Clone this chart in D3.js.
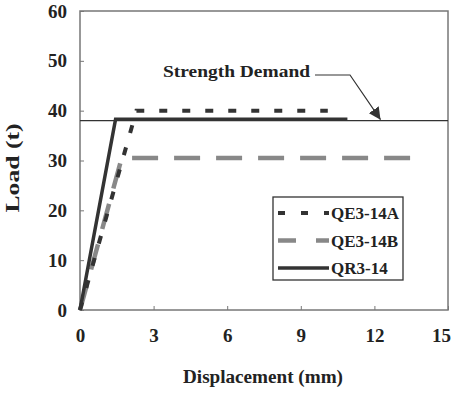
<!DOCTYPE html>
<html lang="en">
<head>
    <meta charset="UTF-8">
    <script src="https://d3js.org/d3.v7.min.js"></script>
    <title>Load vs Displacement</title>
    <style>
        body { margin: 0; background: #fff; }
        text { font-family: "Liberation Serif", "Times New Roman", serif; font-weight: bold; fill: #222; }
    </style>
</head>
<body>
<svg width="458" height="394" id="chart"></svg>
<script>
    // data
    var xTicks = [0, 3, 6, 9, 12, 15];
    var yTicks = [0, 10, 20, 30, 40, 50, 60];
    var seriesNames = ["QE3-14A", "QE3-14B", "QR3-14"];
    var qe14A = [[0, 0], [2.3, 40], [10.1, 40]];
    var qe14B = [[0, 0], [1.7, 30.5], [13.9, 30.5]];
    var qr14 = [[0, 0], [1.45, 38.3], [10.9, 38.3]];
    var demand = 38;

    var svg = d3.select('#chart');
    var plotL = 80, plotR = 448, plotT = 11, plotB = 310;

    var x = d3.scaleLinear().domain([0, 15]).range([plotL, plotR]);
    var y = d3.scaleLinear().domain([0, 60]).range([plotB, plotT]);

    // frame
    svg.append('rect')
        .attr('x', plotL).attr('y', plotT)
        .attr('width', plotR - plotL).attr('height', plotB - plotT)
        .attr('fill', 'none').attr('stroke', '#777').attr('stroke-width', 1.5);

    var yAxis = d3.axisLeft(y).tickValues(yTicks).tickSize(-4).tickPadding(13);
    var gy = svg.append('g').attr('transform', 'translate(' + plotL + ',0)').call(yAxis);
    var xAxis = d3.axisBottom(x).tickValues(xTicks).tickSize(-4).tickPadding(19);
    var gx = svg.append('g').attr('transform', 'translate(0,' + plotB + ')').call(xAxis);
    [gy, gx].forEach(function(g){
        g.select('.domain').remove();
        g.selectAll('line').attr('stroke', '#777');
        g.selectAll('text').style('font-size', '19px').attr('fill', '#222');
    });
    // last x label sits a bit left of its tick in the original
    gx.selectAll('.tick text').filter(function(d){ return d == 15; }).attr('dx', -7);

    // strength demand line
    svg.append('line')
        .attr('x1', x(0)).attr('x2', x(15))
        .attr('y1', y(demand)).attr('y2', y(demand))
        .attr('stroke', '#333').attr('stroke-width', 1.3);

    var line = d3.line()
        .x(function(d){ return x(d[0]); })
        .y(function(d){ return y(d[1]); });

    var styles = [
        {data: qe14B, color: '#888', width: 4.5, dash: '26,16'},
        {data: qe14A, color: '#333', width: 4, dash: '8,15'},
        {data: qr14, color: '#333', width: 3.5, dash: null}
    ];
    styles.forEach(function(s){
        svg.append('path')
            .datum(s.data)
            .attr('d', line)
            .attr('fill', 'none')
            .attr('stroke', s.color)
            .attr('stroke-width', s.width)
            .attr('stroke-dasharray', s.dash);
    });

    // annotation
    svg.append('text')
        .attr('x', 163).attr('y', 77)
        .attr('textLength', 147).attr('lengthAdjust', 'spacingAndGlyphs')
        .style('font-size', '17px')
        .text('Strength Demand');
    svg.append('defs').append('marker')
        .attr('id', 'arrow')
        .attr('viewBox', '0 0 10 10')
        .attr('refX', 10).attr('refY', 5)
        .attr('markerWidth', 12).attr('markerHeight', 12)
        .attr('markerUnits', 'userSpaceOnUse')
        .attr('orient', 'auto')
        .append('path').attr('d', 'M0,0 L10,5 L0,10 Z').attr('fill', '#333');
    svg.append('path')
        .attr('d', 'M315,75 L350,75 L' + x(12.25) + ',' + (y(demand) - 1))
        .attr('fill', 'none').attr('stroke', '#333').attr('stroke-width', 1.2)
        .attr('marker-end', 'url(#arrow)');

    // legend
    var legend = svg.append('g');
    legend.append('rect')
        .attr('x', 273).attr('y', 197).attr('width', 130).attr('height', 83)
        .attr('fill', '#fff').attr('stroke', '#333').attr('stroke-width', 1.3);
    var legendStyles = [
        {color: '#333', width: 4, dash: '7,16'},
        {color: '#888', width: 4.5, dash: '18,20'},
        {color: '#333', width: 3.5, dash: null}
    ];
    seriesNames.forEach(function(name, i){
        var ly = 213 + i * 27.5;
        legend.append('line')
            .attr('x1', 278).attr('x2', 329)
            .attr('y1', ly).attr('y2', ly)
            .attr('stroke', legendStyles[i].color)
            .attr('stroke-width', legendStyles[i].width)
            .attr('stroke-dasharray', legendStyles[i].dash);
        legend.append('text')
            .attr('x', 331).attr('y', ly + 6)
            .style('font-size', '17px')
            .text(name);
    });

    // axis titles
    svg.append('text')
        .attr('x', 263).attr('y', 383)
        .attr('text-anchor', 'middle')
        .attr('textLength', 160).attr('lengthAdjust', 'spacingAndGlyphs')
        .style('font-size', '18px')
        .text('Displacement (mm)');
    svg.append('text')
        .attr('transform', 'translate(19,168) rotate(-90)')
        .attr('text-anchor', 'middle')
        .attr('textLength', 89).attr('lengthAdjust', 'spacingAndGlyphs')
        .style('font-size', '18px')
        .text('Load (t)');
</script>
</body>
</html>
